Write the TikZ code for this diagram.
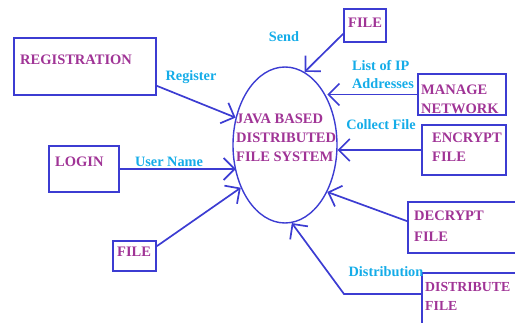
\documentclass[tikz,border=0pt]{standalone}
\usepackage{fontspec}
\setmainfont{Liberation Serif}
\usetikzlibrary{shapes.geometric,arrows.meta}

\definecolor{boxblue}{RGB}{60,60,210}
\definecolor{txtpurple}{RGB}{160,52,150}
\definecolor{lblcyan}{RGB}{20,172,232}

\tikzset{
  box/.style={draw=boxblue, line width=1.7pt, inner sep=0pt},
  txt/.style={text=txtpurple, font=\bfseries\fontsize{14.5}{19}\selectfont, anchor=west, inner sep=0pt, align=left},
  lbl/.style={text=lblcyan, font=\bfseries\fontsize{14.3}{18}\selectfont, inner sep=0pt, align=left},
  arr/.style={draw=boxblue, line width=1.7pt, -{Straight Barb[length=11pt,width=22pt]}}
}

\begin{document}
\begin{tikzpicture}[x=1pt,y=-1pt]
            \clip (0,0) rectangle (515,322);

            % centre
            \node[draw=boxblue, line width=1.4pt, ellipse, minimum width=104pt, minimum height=156pt, inner sep=0pt] (sys) at (285,145) {};
            \node[txt] (systxt) at (236,138) {JAVA BASED\\DISTRIBUTED\\FILE SYSTEM};

            % boxes
            \node[box, minimum width=142pt, minimum height=57pt] (reg) at (85,66.5) {};
            \node[txt] (regtxt) at (20,60) {REGISTRATION};
            \node[box, minimum width=70pt, minimum height=46pt] (login) at (84,169) {};
            \node[txt] (logintxt) at (55,162) {LOGIN};
            \node[box, minimum width=43pt, minimum height=30pt] (fileb) at (134.5,256) {};
            \node[txt] (filebtxt) at (117,252) {FILE};
            \node[box, minimum width=42pt, minimum height=33pt] (filet) at (365,25.5) {};
            \node[txt] (filettxt) at (348,23) {FILE};
            \node[box, minimum width=88pt, minimum height=41pt] (mng) at (462,94.5) {};
            \node[txt] (mngtxt) at (421,99.5) {MANAGE\\NETWORK};
            \node[box, minimum width=84pt, minimum height=50pt] (enc) at (464,150) {};
            \node[txt] (enctxt) at (432,147.5) {ENCRYPT\\FILE};
            \node[box, minimum width=112pt, minimum height=51pt] (dec) at (464,227.5) {};
            \node[txt] (dectxt) at (414,226) {DECRYPT\\[2pt]FILE};
            \node[box, minimum width=103pt, minimum height=57pt] (dst) at (473.5,301.5) {};
            \node[txt, font=\bfseries\fontsize{13.8}{19}\selectfont] (dsttxt) at (425,296) {DISTRIBUTE\\FILE};

            % labels
            \node[lbl] (lreg) at (191,77) {Register};
            \node[lbl] (luser) at (169,162) {User Name};
            \node[lbl] (lsend) at (284,37) {Send};
            \node[lbl] (lip) at (383,75) {List of IP\\Addresses};
            \node[lbl] (lcol) at (381,125) {Collect File};
            \node[lbl] (ldst) at (386,272) {Distribution};

            \coordinate (bend) at (344,294);

            \draw[arr] ([yshift=10pt]reg.south east) -- (sys.151);
            \draw[arr] (login.east) -- (sys.210 |- login.east);
            \draw[arr] ([yshift=-6pt]fileb.north east) -- (sys.224);
            \draw[arr] ([yshift=9pt]filet.south west) -- (sys.75);
            \draw[arr] (mng.west) -- (sys.48 |- mng.west);
            \draw[arr] (enc.west) -- (sys.-6 |- enc.west);
            \draw[arr] ([yshift=-20pt]dec.north west) -- (sys.-48);
            \draw[arr] (dst.west |- bend) -- (bend) -- (sys.-85);
        \end{tikzpicture}
\end{document}
